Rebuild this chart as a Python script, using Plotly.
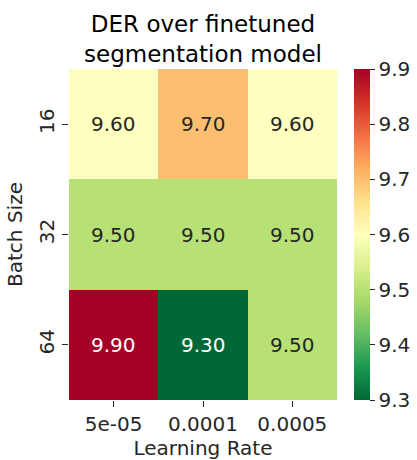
import plotly.graph_objects as go
from plotly.colors import sample_colorscale, unlabel_rgb

# DER grid: rows = batch size, columns = learning rate
learning_rates = ["5e-05", "0.0001", "0.0005"]
batch_sizes = ["16", "32", "64"]
der_16 = [9.60, 9.70, 9.60]
der_32 = [9.50, 9.50, 9.50]
der_64 = [9.90, 9.30, 9.50]
z = [der_16, der_32, der_64]

vmin, vmax = 9.3, 9.9
FONT = "DejaVu Sans"
TXT = "#262626"
FS = 20

xi = list(range(len(learning_rates)))
yi = list(range(len(batch_sizes)))

fig = go.Figure(
    go.Heatmap(
        z=z,
        x=xi,
        y=yi,
        zmin=vmin,
        zmax=vmax,
        colorscale="RdYlGn_r",
        colorbar=dict(
            x=1.063,
            xanchor="left",
            xpad=0,
            ypad=0,
            y=0.5,
            yanchor="middle",
            len=1,
            lenmode="fraction",
            thickness=16,
            outlinewidth=0,
            ticks="outside",
            ticklen=5,
            tickwidth=1,
            tickcolor=TXT,
            tick0=9.3,
            dtick=0.1,
            tickformat=".1f",
            tickfont=dict(family=FONT, size=FS, color=TXT),
        ),
        hoverinfo="skip",
    )
)

# Cell annotations: white on dark cells, dark gray on light ones
for r, row in enumerate(z):
    for c, v in enumerate(row):
        frac = (v - vmin) / (vmax - vmin)
        rgb = unlabel_rgb(sample_colorscale("RdYlGn_r", [frac])[0])
        lum = (0.299 * rgb[0] + 0.587 * rgb[1] + 0.114 * rgb[2]) / 255
        fig.add_annotation(
            x=xi[c],
            y=yi[r],
            text=f"{v:.2f}",
            showarrow=False,
            font=dict(family=FONT, size=FS, color="white" if lum < 0.45 else TXT),
        )

fig.update_layout(
    width=417,
    height=460,
    margin=dict(l=69, r=80, t=69, b=60, autoexpand=False),
    paper_bgcolor="white",
    plot_bgcolor="white",
    font=dict(family=FONT, color=TXT),
    title=dict(
        text="DER over finetuned<br>segmentation model",
        x=203 / 417,
        xanchor="center",
        y=1 - 32 / 460,
        yanchor="middle",
        yref="container",
        font=dict(family=FONT, size=23, color="black"),
    ),
    xaxis=dict(
        tickmode="array",
        tickvals=xi,
        ticktext=learning_rates,
        range=[-0.5, len(xi) - 0.5],
        automargin=False,
        ticks="outside",
        ticklen=6,
        tickwidth=1,
        tickcolor=TXT,
        showgrid=False,
        zeroline=False,
        showline=False,
        tickfont=dict(family=FONT, size=FS, color=TXT),
        title=dict(text="Learning Rate", font=dict(family=FONT, size=FS, color=TXT), standoff=8),
    ),
    yaxis=dict(
        tickmode="array",
        tickvals=yi,
        ticktext=batch_sizes,
        range=[len(yi) - 0.5, -0.5],
        automargin=False,
        ticks="outside",
        ticklen=6,
        tickwidth=1,
        tickcolor=TXT,
        tickangle=-90,
        showgrid=False,
        zeroline=False,
        showline=False,
        tickfont=dict(family=FONT, size=FS, color=TXT),
        title=dict(text="Batch Size", font=dict(family=FONT, size=FS, color=TXT), standoff=7),
    ),
)

fig.write_html("out.html")
